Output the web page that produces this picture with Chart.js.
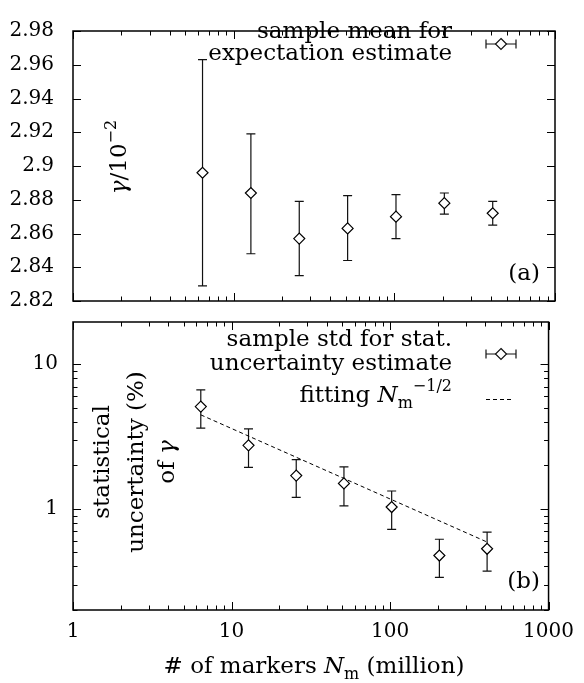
<!DOCTYPE html>
<html>
<head>
<meta charset="utf-8">
<script src="https://cdn.jsdelivr.net/npm/chart.js@4.4.1/dist/chart.umd.min.js"></script>
<style>
  html, body { margin: 0; padding: 0; background: #fff; }
  #wrap { position: relative; width: 584px; height: 683px; }
  #wrap canvas { position: absolute; left: 0; top: 0; }
</style>
</head>
<body>
<div id="wrap">
  <canvas id="topChart" width="584" height="683"></canvas>
  <canvas id="bottomChart" width="584" height="683"></canvas>
</div>
<script>
// number of markers N_m (million) for each run
const markersM = [6.4, 12.8, 25.6, 51.2, 102.4, 204.8, 409.6];

// panel (a): sample mean of gamma / 1e-2, with error bar ends
const meanVal  = [2.896, 2.884, 2.857, 2.863, 2.870, 2.878, 2.872];
const meanLow  = [2.829, 2.848, 2.835, 2.844, 2.857, 2.8715, 2.865];
const meanHigh = [2.963, 2.919, 2.879, 2.8825, 2.883, 2.884, 2.879];

// panel (b): statistical uncertainty (%) of gamma, with error bar ends
const stdVal  = [5.10, 2.75, 1.70, 1.50, 1.03, 0.476, 0.530];
const stdLow  = [3.62, 1.94, 1.20, 1.05, 0.723, 0.336, 0.371];
const stdHigh = [6.65, 3.58, 2.19, 1.95, 1.33, 0.617, 0.690];

// N_m^-1/2 fit, end points
const fitX = [6.4, 409.6];
const fitY = [4.47, 0.59];

// tick labels
const xTicks = [1, 10, 100, 1000];
const meanTicks = [2.82, 2.84, 2.86, 2.88, 2.90, 2.92, 2.94, 2.96, 2.98];
const stdTicks = [1, 10];

const SERIF = '"DejaVu Serif", serif';
const F_TXT = `23px ${SERIF}`;
const F_IT = `italic 23px ${SERIF}`;
const F_SM = `16px ${SERIF}`;
const tickFont = { family: 'DejaVu Serif', size: 20 };

// draw a line of mixed-font text
function drawRich(ctx, parts, x, y, align) {
  let w = 0;
  parts.forEach(p => { ctx.font = p.font; p.w = ctx.measureText(p.text).width; w += p.w; });
  let cx = align === 'right' ? x - w : align === 'center' ? x - w / 2 : x;
  ctx.textAlign = 'left';
  ctx.textBaseline = 'alphabetic';
  parts.forEach(p => {
    ctx.font = p.font;
    ctx.fillText(p.text, cx, y + (p.dy || 0));
    cx += p.w;
  });
}

// k*10^d tick positions between min and max
function logTickList(min, max) {
  const out = [];
  for (let d = Math.floor(Math.log10(min)); d <= Math.ceil(Math.log10(max)); d++) {
    for (let k = 1; k < 10; k++) {
      const v = k * Math.pow(10, d);
      if (v >= min * 0.999 && v <= max * 1.001) out.push({ v: v, major: k === 1 });
    }
  }
  return out;
}

function diamond(ctx, x, y, r) {
  ctx.beginPath();
  ctx.moveTo(x, y - r); ctx.lineTo(x + r, y); ctx.lineTo(x, y + r); ctx.lineTo(x - r, y);
  ctx.closePath();
  ctx.fillStyle = '#fff';
  ctx.fill();
  ctx.stroke();
}

// border box plus inward ticks on all four sides
const framePlugin = {
  id: 'frame',
  afterDatasetsDraw(chart, args, opts) {
    const { ctx, chartArea: a, scales } = chart;
    ctx.save();
    ctx.strokeStyle = '#000';
    ctx.lineWidth = 1;
    ctx.beginPath();
    opts.xTicks.forEach(t => {
      const px = Math.round(scales.x.getPixelForValue(t.v)) + 0.5;
      const len = t.major ? 8 : 4.5;
      ctx.moveTo(px, a.bottom); ctx.lineTo(px, a.bottom - len);
      ctx.moveTo(px, a.top); ctx.lineTo(px, a.top + len);
    });
    opts.yTicks.forEach(t => {
      const py = Math.round(scales.y.getPixelForValue(t.v)) + 0.5;
      const len = t.major ? 8 : 4.5;
      ctx.moveTo(a.left, py); ctx.lineTo(a.left + len, py);
      ctx.moveTo(a.right, py); ctx.lineTo(a.right - len, py);
    });
    ctx.stroke();
    ctx.lineWidth = 1.5;
    ctx.strokeRect(a.left, a.top, a.right - a.left, a.bottom - a.top);
    ctx.restore();
  }
};

// vertical error bars for dataset 0
const errorBarPlugin = {
  id: 'errorBars',
  beforeDatasetsDraw(chart, args, opts) {
    const { ctx, scales } = chart;
    ctx.save();
    ctx.strokeStyle = '#111';
    ctx.lineWidth = 1.2;
    ctx.beginPath();
    markersM.forEach((m, i) => {
      const px = scales.x.getPixelForValue(m);
      const y1 = scales.y.getPixelForValue(opts.low[i]);
      const y2 = scales.y.getPixelForValue(opts.high[i]);
      ctx.moveTo(px, y1); ctx.lineTo(px, y2);
      ctx.moveTo(px - 4.5, y1); ctx.lineTo(px + 4.5, y1);
      ctx.moveTo(px - 4.5, y2); ctx.lineTo(px + 4.5, y2);
    });
    ctx.stroke();
    ctx.restore();
  }
};

function legendErrBar(ctx, x1, x2, y) {
  ctx.save();
  ctx.strokeStyle = '#111';
  ctx.lineWidth = 1.2;
  ctx.beginPath();
  ctx.moveTo(x1, y); ctx.lineTo(x2, y);
  ctx.moveTo(x1, y - 4.5); ctx.lineTo(x1, y + 4.5);
  ctx.moveTo(x2, y - 4.5); ctx.lineTo(x2, y + 4.5);
  ctx.stroke();
  diamond(ctx, (x1 + x2) / 2, y, 5.5);
  ctx.restore();
}

// texts of panel (a)
const topTextPlugin = {
  id: 'topText',
  afterDraw(chart) {
    const ctx = chart.ctx;
    ctx.save();
    ctx.fillStyle = '#000';
    drawRich(ctx, [{ text: 'sample mean for', font: F_TXT }], 452, 38, 'right');
    drawRich(ctx, [{ text: 'expectation estimate', font: F_TXT }], 452, 60, 'right');
    legendErrBar(ctx, 486, 516, 44);
    drawRich(ctx, [{ text: '(a)', font: F_TXT }], 540, 280, 'right');
    ctx.translate(126, 157);
    ctx.rotate(-Math.PI / 2);
    drawRich(ctx, [
      { text: 'γ', font: F_IT },
      { text: '/10', font: F_TXT },
      { text: '−2', font: F_SM, dy: -10 }
    ], 0, 0, 'center');
    ctx.restore();
  }
};

// texts of panel (b)
const bottomTextPlugin = {
  id: 'bottomText',
  afterDraw(chart) {
    const ctx = chart.ctx;
    ctx.save();
    ctx.fillStyle = '#000';
    drawRich(ctx, [{ text: 'sample std for stat.', font: F_TXT }], 452, 346, 'right');
    drawRich(ctx, [{ text: 'uncertainty estimate', font: F_TXT }], 452, 370, 'right');
    legendErrBar(ctx, 486, 516, 354);
    drawRich(ctx, [
      { text: 'fitting ', font: F_TXT },
      { text: 'N', font: F_IT },
      { text: 'm', font: F_SM, dy: 6 },
      { text: '−1/2', font: F_SM, dy: -11 }
    ], 452, 402, 'right');
    ctx.save();
    ctx.strokeStyle = '#000';
    ctx.lineWidth = 1;
    ctx.setLineDash([4, 3]);
    ctx.beginPath();
    ctx.moveTo(486, 399.5); ctx.lineTo(514, 399.5);
    ctx.stroke();
    ctx.restore();
    drawRich(ctx, [{ text: '(b)', font: F_TXT }], 540, 588, 'right');
    drawRich(ctx, [
      { text: '# of markers ', font: F_TXT },
      { text: 'N', font: F_IT },
      { text: 'm', font: F_SM, dy: 6 },
      { text: ' (million)', font: F_TXT }
    ], 314, 673, 'center');
    const lines = [
      { parts: [{ text: 'statistical', font: F_TXT }], x: 109 },
      { parts: [{ text: 'uncertainty (%)', font: F_TXT }], x: 143 },
      { parts: [{ text: 'of ', font: F_TXT }, { text: 'γ', font: F_IT }], x: 174 }
    ];
    lines.forEach(l => {
      ctx.save();
      ctx.translate(l.x, 462);
      ctx.rotate(-Math.PI / 2);
      drawRich(ctx, l.parts, 0, 0, 'center');
      ctx.restore();
    });
    ctx.restore();
  }
};

const pointStyle = {
  pointStyle: 'rectRot',
  pointRadius: 5.5,
  pointBorderWidth: 1.2,
  pointBorderColor: '#000',
  pointBackgroundColor: '#fff'
};

const hiddenGrid = { display: false, drawTicks: false };

// panel (a)
new Chart(document.getElementById('topChart'), {
  type: 'scatter',
  data: {
    datasets: [{
      data: markersM.map((m, i) => ({ x: m, y: meanVal[i] })),
      ...pointStyle
    }]
  },
  options: {
    responsive: false,
    animation: false,
    layout: { padding: { left: 0, right: 29, top: 12, bottom: 382 } },
    plugins: {
      legend: { display: false },
      tooltip: { enabled: false },
      frame: {
        xTicks: logTickList(1, 1000),
        yTicks: meanTicks.map(v => ({ v: v, major: true }))
      },
      errorBars: { low: meanLow, high: meanHigh }
    },
    scales: {
      x: { type: 'logarithmic', min: 1, max: 1000, display: false },
      y: {
        type: 'linear', min: 2.82, max: 2.98,
        afterBuildTicks: s => { s.ticks = meanTicks.map(v => ({ value: v })); },
        afterFit: s => { s.width = 73; },
        grid: hiddenGrid,
        border: { display: false },
        ticks: {
          autoSkip: false,
          padding: 19,
          color: '#000',
          font: tickFont,
          callback: v => String(Number(v.toFixed(2)))
        }
      }
    }
  },
  plugins: [errorBarPlugin, framePlugin, topTextPlugin]
});

// panel (b)
new Chart(document.getElementById('bottomChart'), {
  type: 'scatter',
  data: {
    datasets: [{
      data: markersM.map((m, i) => ({ x: m, y: stdVal[i] })),
      ...pointStyle
    }, {
      data: fitX.map((x, i) => ({ x: x, y: fitY[i] })),
      showLine: true,
      borderColor: '#000',
      borderWidth: 1,
      borderDash: [4, 3],
      pointRadius: 0
    }]
  },
  options: {
    responsive: false,
    animation: false,
    layout: { padding: { left: 0, right: 29, top: 322, bottom: 0 } },
    plugins: {
      legend: { display: false },
      tooltip: { enabled: false },
      frame: {
        xTicks: logTickList(1, 1000),
        yTicks: logTickList(0.2, 19.6)
      },
      errorBars: { low: stdLow, high: stdHigh }
    },
    scales: {
      x: {
        type: 'logarithmic', min: 1, max: 1000,
        afterBuildTicks: s => { s.ticks = xTicks.map(v => ({ value: v })); },
        afterFit: s => { s.height = 73; },
        grid: hiddenGrid,
        border: { display: false },
        ticks: { autoSkip: false, maxRotation: 0, padding: 10, color: '#000', font: tickFont, callback: v => String(v) }
      },
      y: {
        type: 'logarithmic', min: 0.2, max: 19.6,
        afterBuildTicks: s => { s.ticks = stdTicks.map(v => ({ value: v })); },
        afterFit: s => { s.width = 73; },
        grid: hiddenGrid,
        border: { display: false },
        ticks: { autoSkip: false, padding: 15, color: '#000', font: tickFont, callback: v => String(v) }
      }
    }
  },
  plugins: [errorBarPlugin, framePlugin, bottomTextPlugin]
});
</script>
</body>
</html>
